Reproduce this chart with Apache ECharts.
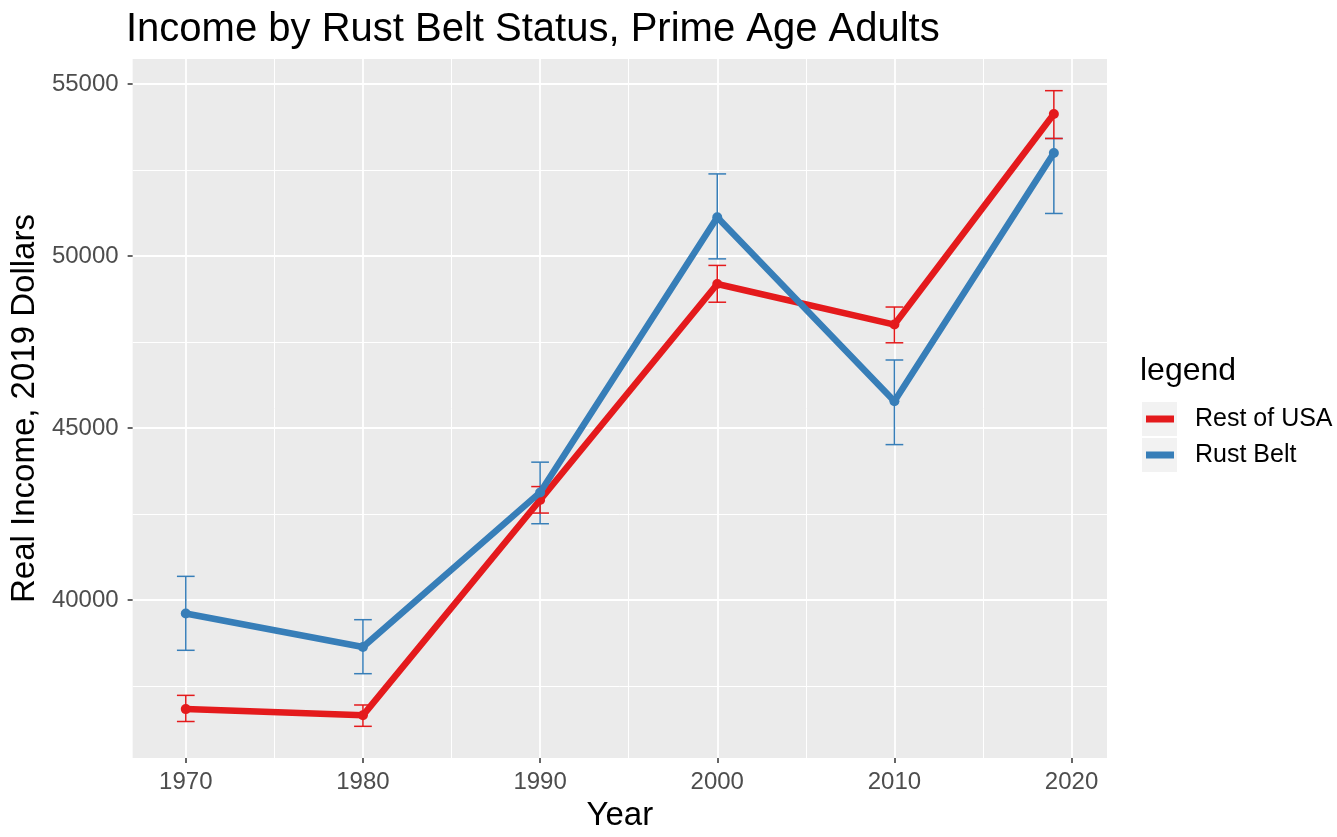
<!DOCTYPE html>
<html>
<head>
<meta charset="utf-8">
<title>Income by Rust Belt Status, Prime Age Adults</title>
<script src="https://cdn.jsdelivr.net/npm/echarts@6/dist/echarts.min.js"></script>
<style>
  html, body { margin: 0; padding: 0; background: #ffffff; }
  #chart { width: 1337px; height: 837px; }
</style>
</head>
<body>
<div id="chart"></div>
<script>
// Survey years and mean real income (2019 dollars) with confidence bounds
const years = [1970, 1980, 1990, 2000, 2010, 2019];

const restOfUSA     = [36830, 36650, 42910, 49190, 48010, 54130];
const restOfUSALow  = [36470, 36330, 42530, 48660, 47480, 53420];
const restOfUSAHigh = [37230, 36950, 43300, 49730, 48520, 54810];

const rustBelt     = [39610, 38635, 43130, 51130, 45780, 53000];
const rustBeltLow  = [38540, 37860, 42220, 49920, 44520, 51240];
const rustBeltHigh = [40690, 39430, 44010, 52390, 46980, 53420];

const seriesNames = ['Rest of USA', 'Rust Belt'];

// Axis breaks
const xMajorTicks = [1970, 1980, 1990, 2000, 2010, 2020];
const xMinorTicks = [1975, 1985, 1995, 2005, 2015];
const yMajorTicks = [40000, 45000, 50000, 55000];
const yMinorTicks = [37500, 42500, 47500, 52500];

const FONT = '"Liberation Sans", Arial, Helvetica, sans-serif';
const RED = '#E41A1C';
const BLUE = '#377EB8';
const CAP_WIDTH = 1; // error bar cap width, in years

function zip(xs, ys) { return xs.map((x, i) => [x, ys[i]]); }
function zip3(xs, a, b) { return xs.map((x, i) => [x, a[i], b[i]]); }

function errorBarRenderer(color) {
  return function (params, api) {
    const x = api.value(0);
    const lo = api.value(1);
    const hi = api.value(2);
    const pLo = api.coord([x, lo]);
    const pHi = api.coord([x, hi]);
    const hiL = api.coord([x - CAP_WIDTH / 2, hi]);
    const hiR = api.coord([x + CAP_WIDTH / 2, hi]);
    const loL = api.coord([x - CAP_WIDTH / 2, lo]);
    const loR = api.coord([x + CAP_WIDTH / 2, lo]);
    const style = { stroke: color, lineWidth: 1.5, fill: null };
    return {
      type: 'group',
      children: [
        { type: 'line', shape: { x1: pHi[0], y1: pHi[1], x2: pLo[0], y2: pLo[1] }, style: style },
        { type: 'line', shape: { x1: hiL[0], y1: hiL[1], x2: hiR[0], y2: hiR[1] }, style: style },
        { type: 'line', shape: { x1: loL[0], y1: loL[1], x2: loR[0], y2: loR[1] }, style: style }
      ]
    };
  };
}

const chart = echarts.init(document.getElementById('chart'), null, { renderer: 'canvas' });

const xMin = 1967, xMax = 2022;
const yMin = 35406, yMax = 55731;

const gridLine = (w) => ({ show: true, lineStyle: { color: '#FFFFFF', width: w } });

chart.setOption({
  animation: false,
  backgroundColor: '#FFFFFF',
  textStyle: { fontFamily: FONT },
  title: [
    {
      text: 'Income by Rust Belt Status, Prime Age Adults',
      left: 126, top: 10, padding: 0,
      textStyle: { fontFamily: FONT, fontSize: 40, fontWeight: 'normal', color: '#000000' }
    },
    {
      text: 'legend',
      left: 1140, top: 355, padding: 0,
      textStyle: { fontFamily: FONT, fontSize: 32, fontWeight: 'normal', color: '#000000' }
    }
  ],
  grid: {
    left: 127, top: 59, width: 980, height: 708,
    show: true, backgroundColor: '#EBEBEB', borderWidth: 0,
    containLabel: false
  },
  graphic: [
    { type: 'rect', shape: { x: 1142, y: 402, width: 35, height: 34 }, style: { fill: '#F2F2F2' }, silent: true },
    { type: 'rect', shape: { x: 1142, y: 438, width: 35, height: 34 }, style: { fill: '#F2F2F2' }, silent: true }
  ],
  legend: {
    data: seriesNames,
    orient: 'vertical',
    left: 1146, top: 402, padding: 0, itemGap: 2,
    icon: 'rect', itemWidth: 28, itemHeight: 7,
    selectedMode: false,
    itemStyle: { borderWidth: 0 },
    textStyle: { fontFamily: FONT, fontSize: 25, color: '#000000', lineHeight: 34, padding: [0, 0, 0, 16] }
  },
  xAxis: [
    {
      type: 'value', min: xMin, max: xMax,
      name: 'Year', nameLocation: 'middle', nameGap: 38,
      nameTextStyle: { fontFamily: FONT, fontSize: 33, color: '#000000' },
      axisLine: { show: false },
      axisTick: { show: true, length: 5, customValues: xMajorTicks, lineStyle: { color: '#333333', width: 1.5 } },
      axisLabel: { show: true, customValues: xMajorTicks, margin: 12, fontFamily: FONT, fontSize: 24, color: '#4D4D4D', formatter: (v) => String(v) },
      splitLine: gridLine(1.8)
    },
    {
      type: 'value', min: xMin, max: xMax, position: 'bottom',
      axisLine: { show: false },
      axisTick: { show: false, customValues: xMinorTicks },
      axisLabel: { show: false, customValues: xMinorTicks },
      splitLine: gridLine(1)
    }
  ],
  yAxis: [
    {
      type: 'value', min: yMin, max: yMax,
      name: 'Real Income, 2019 Dollars', nameLocation: 'middle', nameRotate: 90, nameGap: 80,
      nameTextStyle: { fontFamily: FONT, fontSize: 33, color: '#000000' },
      axisLine: { show: false },
      axisTick: { show: true, length: 5, customValues: yMajorTicks, lineStyle: { color: '#333333', width: 1.5 } },
      axisLabel: { show: true, customValues: yMajorTicks, margin: 14, fontFamily: FONT, fontSize: 24, color: '#4D4D4D', formatter: (v) => String(v) },
      splitLine: gridLine(1.8)
    },
    {
      type: 'value', min: yMin, max: yMax, position: 'left',
      axisLine: { show: false },
      axisTick: { show: false, customValues: yMinorTicks },
      axisLabel: { show: false, customValues: yMinorTicks },
      splitLine: gridLine(1)
    }
  ],
  series: [
    {
      name: 'Rust Belt interval', type: 'custom', z: 2,
      xAxisIndex: 0, yAxisIndex: 0,
      renderItem: errorBarRenderer(BLUE),
      encode: { x: 0, y: [1, 2] },
      data: zip3(years, rustBeltLow, rustBeltHigh),
      silent: true
    },
    {
      name: 'Rest of USA interval', type: 'custom', z: 3,
      xAxisIndex: 0, yAxisIndex: 0,
      renderItem: errorBarRenderer(RED),
      encode: { x: 0, y: [1, 2] },
      data: zip3(years, restOfUSALow, restOfUSAHigh),
      silent: true
    },
    {
      name: 'Rest of USA', type: 'line', z: 4,
      xAxisIndex: 0, yAxisIndex: 0,
      color: RED,
      data: zip(years, restOfUSA),
      symbol: 'circle', symbolSize: 10, showAllSymbol: true,
      lineStyle: { color: RED, width: 6.5 },
      itemStyle: { color: RED, borderWidth: 0 },
      emphasis: { disabled: true },
      silent: true
    },
    {
      name: 'Rust Belt', type: 'line', z: 5,
      xAxisIndex: 0, yAxisIndex: 0,
      color: BLUE,
      data: zip(years, rustBelt),
      symbol: 'circle', symbolSize: 10, showAllSymbol: true,
      lineStyle: { color: BLUE, width: 6.5 },
      itemStyle: { color: BLUE, borderWidth: 0 },
      emphasis: { disabled: true },
      silent: true
    }
  ]
});
</script>
</body>
</html>
